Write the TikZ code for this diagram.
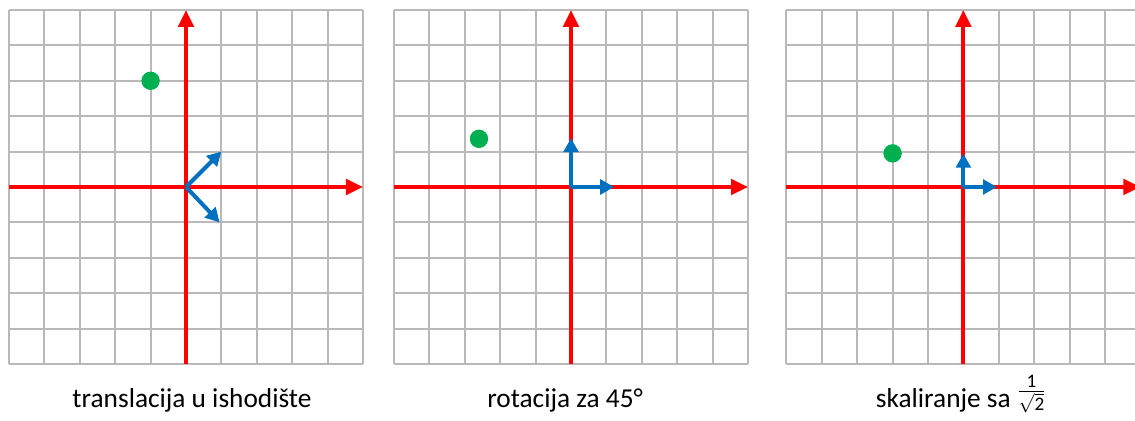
\documentclass[tikz,border=0pt]{standalone}
\usepackage{amsmath}
\usepackage{fontspec}
\setmainfont{Carlito}
\usetikzlibrary{arrows.meta}
\definecolor{axisred}{RGB}{255,0,0}
\definecolor{vecblue}{RGB}{0,112,192}
\definecolor{dotgreen}{RGB}{0,176,80}
\definecolor{gridgray}{RGB}{185,185,185}

\begin{document}
\begin{tikzpicture}[x=26.55pt,y=26.55pt,
  gridline/.style={draw=gridgray,line width=1.5pt,step=1},
  axis/.style={draw=axisred,line width=3pt,-{Triangle[length=12.75pt,width=11.5pt]}},
  vec/.style={draw=vecblue,line width=3pt,-{Triangle[length=10.5pt,width=11pt]}},
  pt/.style={fill=dotgreen},
  caption/.style={anchor=base,font=\fontsize{20.5}{24}\selectfont}]
\clip (-5.254,-6.610) rectangle (26.808,5.282);

% translacija
\begin{scope}
\draw[gridline] (-5,-5) grid (5,5);
\draw[axis] (-5,0) -- (5,0);
\draw[axis] (0,-5) -- (0,5);
\draw[vec] (0,0) -- (1,1);
\draw[vec] (0,0) -- (0.95,-1);
\fill[pt] (-1,3) circle (0.26);
\end{scope}
\node[caption] (captrans) at (0.17,-6.24) {translacija u ishodište};

% rotacija
\begin{scope}[xshift=10.876*26.55pt]
\draw[gridline] (-5,-5) grid (5,5);
\draw[axis] (-5,0) -- (5,0);
\draw[axis] (0,-5) -- (0,5);
\draw[vec] (0,0) -- (1.22,0);
\draw[vec] (0,0) -- (0,1.38);
\fill[pt] (-2.6,1.36) circle (0.26);
\end{scope}
\node[caption] (caprot) at (10.71,-6.24) {rotacija za 45°};

% skaliranje
\begin{scope}[xshift=21.96*26.55pt]
\draw[gridline] (-5,-5) grid (5,5);
\draw[axis] (-5,0) -- (5,0);
\draw[axis] (0,-5) -- (0,5);
\draw[vec] (0,0) -- (0.95,0);
\draw[vec] (0,0) -- (0,0.94);
\fill[pt] (-2,0.95) circle (0.26);
\end{scope}
\node[caption] (capscale) at (21.89,-6.24)
  {skaliranje sa \raisebox{7pt}{$\frac{\text{1}}{\sqrt{\text{2}}}$}};
\end{tikzpicture}
\end{document}
